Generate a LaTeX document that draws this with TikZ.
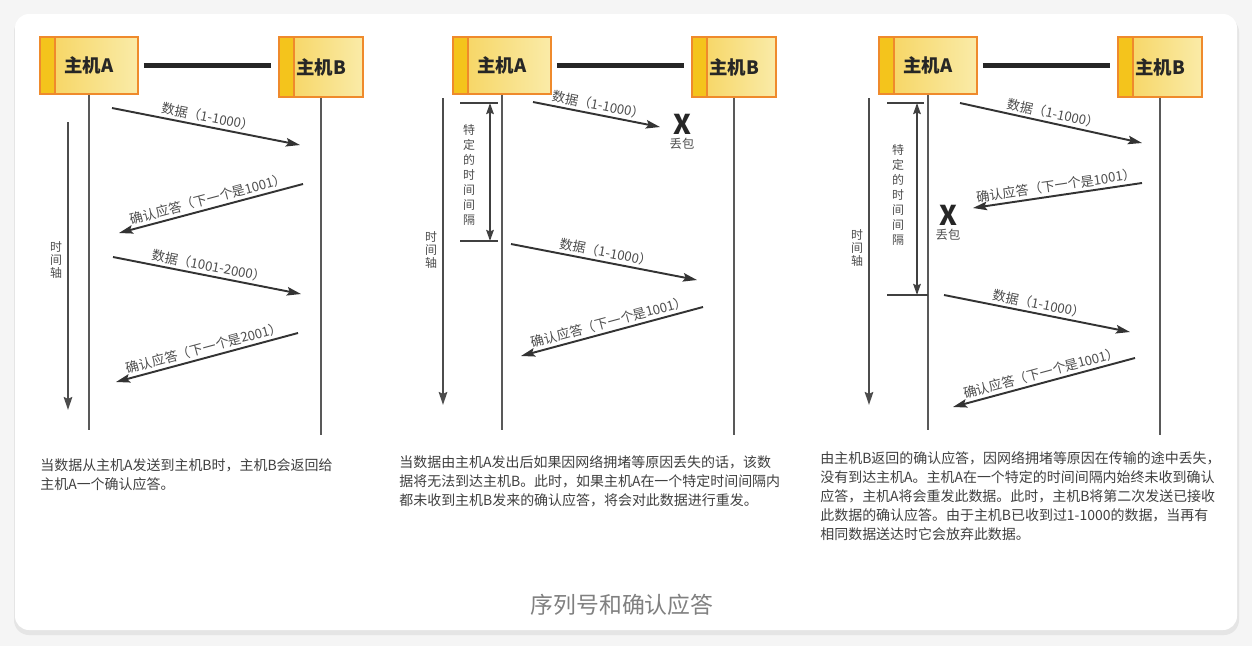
\documentclass[tikz,border=0pt]{standalone}
\usepackage{fontspec}
\setmainfont{Noto Sans CJK SC}
\usetikzlibrary{arrows.meta,positioning}
\definecolor{hostfill}{HTML}{F6D35C}
\definecolor{hostlite}{HTML}{FAEBA8}
\definecolor{hoststripe}{HTML}{F4C41C}
\definecolor{hostedge}{HTML}{EF8A2C}
\definecolor{ink}{HTML}{333333}
\definecolor{txtgray}{HTML}{4D4D4D}
\definecolor{pagebg}{HTML}{F5F5F5}

\begin{document}
\begin{tikzpicture}[
  x=0.02cm, y=-0.02cm,
  host/.style={draw=hostedge, line width=1.1pt, left color=hostfill, right color=hostlite,
               font=\fontsize{10.5}{12}\selectfont\bfseries, text=black!85, inner sep=0pt,
               path picture={
                 \fill[hoststripe] (path picture bounding box.north west)
                   rectangle ([xshift=0.3cm]path picture bounding box.south west);
                 \draw[hostedge, line width=1.1pt] ([xshift=0.3cm]path picture bounding box.north west)
                   -- ([xshift=0.3cm]path picture bounding box.south west);}},
  hosta/.style={host, minimum width=1.96cm, minimum height=1.14cm},
  hostb/.style={host, minimum width=1.68cm, minimum height=1.2cm},
  life/.style={line width=1.1pt, draw=black!65},
  link/.style={line width=2.8pt, draw=black!85, shorten <=0.1cm, shorten >=0.14cm},
  msg/.style={line width=1.1pt, draw=ink, -{Stealth[length=2.8mm, width=1.7mm, inset=0.5mm]}},
  lbl/.style={font=\fontsize{7.5}{8.5}\selectfont, text=txtgray, sloped, above, inner sep=1.5pt},
  tax/.style={line width=1.1pt, draw=black!70, -{Stealth[length=2.6mm, width=1.7mm, inset=0.4mm]}},
  vlbl/.style={font=\fontsize{6.8}{7.6}\selectfont, text=txtgray, align=center, inner sep=0pt},
  ilbl/.style={font=\fontsize{6.8}{8.5}\selectfont, text=txtgray, align=center, inner sep=0pt},
  gap/.style={line width=1.1pt, draw=black!75,
              {Stealth[length=2.2mm, width=1.5mm, inset=0.3mm]}-{Stealth[length=2.2mm, width=1.5mm, inset=0.3mm]}},
  tick/.style={line width=1.1pt, draw=black!75},
  lost/.style={font=\fontsize{15.5}{16}\selectfont\bfseries, text=black!85, inner sep=0pt},
  lostl/.style={font=\fontsize{7}{8}\selectfont, text=txtgray, inner sep=0pt},
  txt/.style={font=\fontsize{7.95}{10.8}\selectfont, text=black!75, align=left, anchor=north west, inner sep=0pt}
]

% ================= card =================
\fill[pagebg] (0,0) rectangle (1252,646);
\fill[black!10, rounded corners=0.3cm] (14,17) rectangle (1239,635);
\fill[white, rounded corners=0.28cm] (15,14) rectangle (1237,630);

% ================= panel 1: normal exchange =================
\node[hosta] (hA1) at (89,65.5) {主机A};
\node[hostb] (hB1) at (321,67) {主机B};
\draw[link] (hA1.east) -- (hA1.east -| hB1.west);
\coordinate (eA1) at (89,430);
\coordinate (eB1) at (321,435);
\draw[life] (hA1.south) -- (eA1);
\draw[life] (hB1.south) -- (eB1);

\coordinate (t1s) at (68,122);
\coordinate (t1e) at (68,410);
\draw[tax] (t1s) -- (t1e);
\node[vlbl] (tl1) at (56,260) {时\\间\\轴};

\coordinate (m11) at (112,108);  \coordinate (m12) at (300,145);
\coordinate (m21) at (303,184);  \coordinate (m22) at (119,233);
\coordinate (m31) at (113,257);  \coordinate (m32) at (301,294);
\coordinate (m41) at (298,333);  \coordinate (m42) at (116,382);
\draw[msg] (m11) -- node[lbl] (l11) {数据（1-1000）} (m12);
\draw[msg] (m21) -- node[lbl] (l12) {确认应答（下一个是1001）} (m22);
\draw[msg] (m31) -- node[lbl] (l13) {数据（1001-2000）} (m32);
\draw[msg] (m41) -- node[lbl] (l14) {确认应答（下一个是2001）} (m42);

\node[txt] (c1) at (40,458)
  {当数据从主机A发送到主机B时，主机B会返回给\\主机A一个确认应答。};

% ================= panel 2: data lost =================
\node[hosta] (hA2) at (502,65.5) {主机A};
\node[hostb] (hB2) at (734,67) {主机B};
\draw[link] (hA2.east) -- (hA2.east -| hB2.west);
\coordinate (eA2) at (502,430);
\coordinate (eB2) at (734,435);
\draw[life] (hA2.south) -- (eA2);
\draw[life] (hB2.south) -- (eB2);

\coordinate (t2s) at (443,98);
\coordinate (t2e) at (443,405);
\draw[tax] (t2s) -- (t2e);
\node[vlbl] (tl2) at (431,250) {时\\间\\轴};

% fixed interval before resend
\coordinate (g2a) at (460,103);
\coordinate (g2b) at (460,241);
\coordinate (g2c) at (490,103);
\coordinate (g2d) at (490,241);
\draw[tick] (g2a) -- ([xshift=-0.08cm]g2a -| hA2.south);
\draw[tick] (g2b) -- ([xshift=-0.08cm]g2b -| hA2.south);
\draw[gap] (g2c) -- (g2d);
\node[ilbl] (il2) at (469,175) {特\\定\\的\\时\\间\\间\\隔};

\coordinate (n11) at (533,102);  \coordinate (n12) at (660,127);
\coordinate (n21) at (511,244);  \coordinate (n22) at (697,280);
\coordinate (n31) at (703,307);  \coordinate (n32) at (521,356);
\draw[msg] (n11) -- node[lbl] (l21) {数据（1-1000）} (n12);
\node[lost] (x2) at (682,124) {X};
\node[lostl, below=2pt of x2] (xl2) {丢包};
\draw[msg] (n21) -- node[lbl] (l22) {数据（1-1000）} (n22);
\draw[msg] (n31) -- node[lbl] (l23) {确认应答（下一个是1001）} (n32);

\node[txt] (c2) at (399,455)
  {当数据由主机A发出后如果因网络拥堵等原因丢失的话，该数\\
   据将无法到达主机B。此时，如果主机A在一个特定时间间隔内\\
   都未收到主机B发来的确认应答，将会对此数据进行重发。};

% ================= panel 3: ack lost =================
\node[hosta] (hA3) at (928,65.5) {主机A};
\node[hostb] (hB3) at (1160,67) {主机B};
\draw[link] (hA3.east) -- (hA3.east -| hB3.west);
\coordinate (eA3) at (928,430);
\coordinate (eB3) at (1160,435);
\draw[life] (hA3.south) -- (eA3);
\draw[life] (hB3.south) -- (eB3);

\coordinate (t3s) at (869,98);
\coordinate (t3e) at (869,405);
\draw[tax] (t3s) -- (t3e);
\node[vlbl] (tl3) at (857,248) {时\\间\\轴};

% fixed interval before resend
\coordinate (g3a) at (887,103);
\coordinate (g3b) at (887,295);
\coordinate (g3c) at (917,103);
\coordinate (g3d) at (917,295);
\draw[tick] (g3a) -- ([xshift=-0.08cm]g3a -| hA3.south);
\draw[tick] (g3b) -- (g3b -| hA3.south);
\draw[gap] (g3c) -- (g3d);
\node[ilbl] (il3) at (898,195) {特\\定\\的\\时\\间\\间\\隔};

\coordinate (k11) at (960,103);   \coordinate (k12) at (1142,143);
\coordinate (k21) at (1142,183);  \coordinate (k22) at (973,208);
\coordinate (k31) at (944,295);   \coordinate (k32) at (1130,332);
\coordinate (k41) at (1135,358);  \coordinate (k42) at (953,407);
\draw[msg] (k11) -- node[lbl] (l31) {数据（1-1000）} (k12);
\draw[msg] (k21) -- node[lbl] (l32) {确认应答（下一个是1001）} (k22);
\node[lost] (x3) at (948,215) {X};
\node[lostl, below=2pt of x3] (xl3) {丢包};
\draw[msg] (k31) -- node[lbl] (l33) {数据（1-1000）} (k32);
\draw[msg] (k41) -- node[lbl] (l34) {确认应答（下一个是1001）} (k42);

\node[txt] (c3) at (820,451)
  {由主机B返回的确认应答，因网络拥堵等原因在传输的途中丢失，\\
   没有到达主机A。主机A在一个特定的时间间隔内始终未收到确认\\
   应答，主机A将会重发此数据。此时，主机B将第二次发送已接收\\
   此数据的确认应答。由于主机B已收到过1-1000的数据，当再有\\
   相同数据送达时它会放弃此数据。};

% ================= title =================
\node[font=\fontsize{13}{15}\selectfont, text=black!50] (ttl) at (622,605) {序列号和确认应答};
\end{tikzpicture}
\end{document}
